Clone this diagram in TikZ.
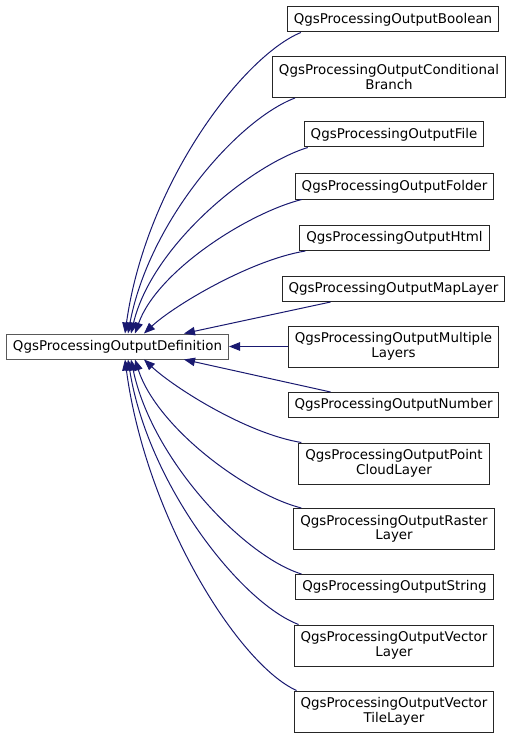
\documentclass[tikz,border=0pt]{standalone}
\usepackage{fontspec}
\setmainfont{DejaVu Sans}
\usetikzlibrary{arrows.meta,calc,positioning}
\definecolor{midnight}{HTML}{191970}

\begin{document}
\begin{tikzpicture}[x=1pt, y=-1pt, >=Stealth,
  font=\fontsize{13.4}{14.5}\selectfont,
  cls/.style={draw=black!85, line width=1pt, fill=white, inner xsep=6.5pt, inner ysep=2pt, minimum height=25pt},
  clstwo/.style={cls, align=center, minimum height=41pt},
  base/.style={cls, draw=black!65},
  inherit/.style={draw=midnight, line width=1pt, -{Triangle[length=11pt, width=8.5pt]}}]
  \useasboundingbox (0,0) rectangle (517,738);
  % base class
  \node[base] (def) at (117.5,346.5) {QgsProcessingOutputDefinition};
  % derived classes
  \node[cls] (bool) at (393,19.5) {QgsProcessingOutputBoolean};
  \node[clstwo] (cond) at (389,77) {QgsProcessingOutputConditional\\Branch};
  \node[cls] (file) at (394,134.5) {QgsProcessingOutputFile};
  \node[cls] (folder) at (394.5,186.5) {QgsProcessingOutputFolder};
  \node[cls] (html) at (394.5,238) {QgsProcessingOutputHtml};
  \node[cls] (maplayer) at (393.5,289) {QgsProcessingOutputMapLayer};
  \node[clstwo] (multi) at (393.5,346.5) {QgsProcessingOutputMultiple\\Layers};
  \node[cls] (number) at (393.5,405) {QgsProcessingOutputNumber};
  \node[clstwo] (cloud) at (394,463.5) {QgsProcessingOutputPoint\\CloudLayer};
  \node[clstwo] (raster) at (394,529) {QgsProcessingOutputRaster\\Layer};
  \node[cls] (string) at (394.5,587) {QgsProcessingOutputString};
  \node[clstwo] (vector) at (394,645.5) {QgsProcessingOutputVector\\Layer};
  \node[clstwo] (tile) at (394,711.5) {QgsProcessingOutputVector\\TileLayer};
  % edges above
  \draw[inherit] ([xshift=14pt]bool.south west) .. controls +(-58,24) and +(21,-150) .. ([xshift=119pt]def.north west);
  \draw[inherit] ([xshift=23pt]cond.south west) .. controls +(-58,22) and +(21,-112) .. ([xshift=122pt]def.north west);
  \draw[inherit] ([xshift=4pt]file.south west) .. controls +(-58,18) and +(21,-88) .. ([xshift=125pt]def.north west);
  \draw[inherit] ([xshift=7pt]folder.south west) .. controls +(-55,14) and +(22,-62) .. ([xshift=129pt]def.north west);
  \draw[inherit] ([xshift=6pt]html.south west) .. controls +(-55,9) and +(30,-28) .. ([xshift=138pt]def.north west);
  \draw[inherit] ([xshift=49pt]maplayer.south west) -- ([xshift=178pt]def.north west);
  % straight edge
  \draw[inherit] (multi.west) -- (def.east);
  % edges below
  \draw[inherit] ([xshift=43pt]number.north west) -- ([xshift=178pt]def.south west);
  \draw[inherit] ([xshift=3pt]cloud.north west) .. controls +(-55,-9) and +(30,28) .. ([xshift=138pt]def.south west);
  \draw[inherit] ([xshift=8pt]raster.north west) .. controls +(-55,-14) and +(22,68) .. ([xshift=129pt]def.south west);
  \draw[inherit] ([xshift=6pt]string.north west) .. controls +(-58,-18) and +(21,100) .. ([xshift=125pt]def.south west);
  \draw[inherit] ([xshift=5pt]vector.north west) .. controls +(-58,-22) and +(20,125) .. ([xshift=122pt]def.south west);
  \draw[inherit] ([xshift=3pt]tile.north west) .. controls +(-58,-26) and +(21,158) .. ([xshift=119pt]def.south west);
\end{tikzpicture}
\end{document}
